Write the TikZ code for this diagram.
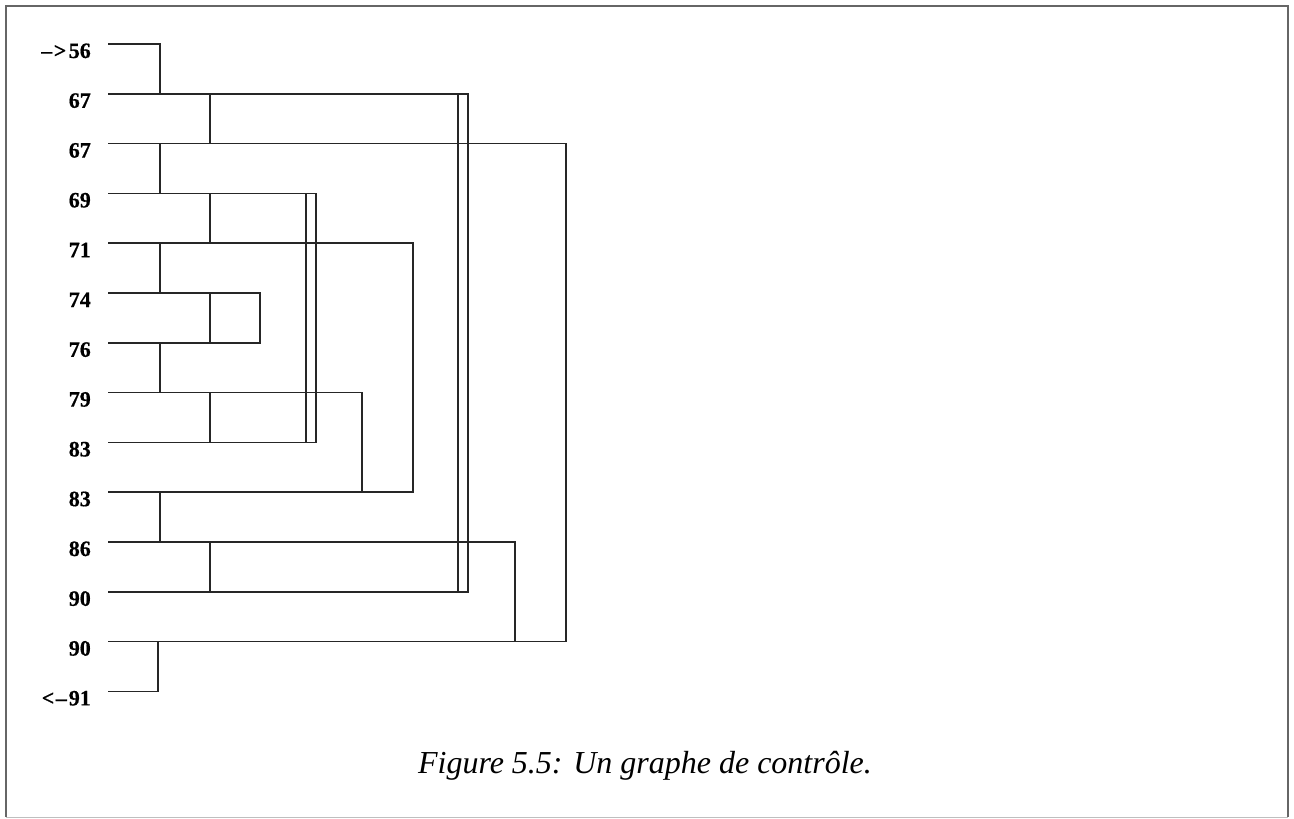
\documentclass[tikz,border=0pt]{standalone}
\usepackage{fontspec}
\setmainfont{Liberation Serif}
\begin{document}
\begin{tikzpicture}[x=1pt,y=-1pt,
  lab/.style={anchor=base east,inner sep=0pt,font=\fontsize{22}{22}\selectfont\bfseries\addfontfeature{FakeBold=0.6}},
  edge/.style={line width=1.6pt,color=black!85},
  frame/.style={line width=2pt,color=black!60},
  captiontext/.style={anchor=base,inner sep=0pt,font=\fontsize{32}{32}\selectfont\itshape}]
\useasboundingbox (0,0) rectangle (1294,819);
% frame
\draw[frame] (6,817) -- (6,6) -- (1288,6) -- (1288,817);
\draw[line width=1pt,color=black!25] (6,817) -- (1288,817);
% rows
\foreach \i/\t in {0/{\textendash\kern1.5pt>\kern2.5pt56},1/67,2/67,3/69,4/71,5/74,6/76,7/79,8/83,9/83,10/86,11/90,12/90,13/{<\kern1.5pt\textendash\kern2pt91}}{
  \coordinate (r\i) at (108,{44+49.8*\i});
  \node[lab] (L\i) at (91,{44+49.8*\i+14}) {\t};
}
% columns
\foreach \c in {158,160,210,260,306,316,362,413,458,468,515,566}{
  \coordinate (c\c) at (\c,0);
}
% entry / exit
\draw[edge] (r0) -- (r0 -| c160) -- (r1 -| c160);
\draw[edge] (r13) -- (r13 -| c158) -- (r12 -| c158);
% loops and jumps
\draw[edge] (r1) -- (r1 -| c468) -- (r11 -| c468) -- (r11);
\draw[edge] (r1 -| c458) -- (r11 -| c458);
\draw[edge] (r2) -- (r2 -| c566) -- (r12 -| c566) -- (r12);
\draw[edge] (r3) -- (r3 -| c316) -- (r8 -| c316) -- (r8);
\draw[edge] (r3 -| c306) -- (r8 -| c306);
\draw[edge] (r4) -- (r4 -| c413) -- (r9 -| c413) -- (r9);
\draw[edge] (r5) -- (r5 -| c260) -- (r6 -| c260) -- (r6);
\draw[edge] (r7) -- (r7 -| c362) -- (r9 -| c362);
\draw[edge] (r10) -- (r10 -| c515) -- (r12 -| c515);
% sequential links
\draw[edge] (r2 -| c160) -- (r3 -| c160);
\draw[edge] (r4 -| c160) -- (r5 -| c160);
\draw[edge] (r6 -| c160) -- (r7 -| c160);
\draw[edge] (r9 -| c160) -- (r10 -| c160);
\draw[edge] (r1 -| c210) -- (r2 -| c210);
\draw[edge] (r3 -| c210) -- (r4 -| c210);
\draw[edge] (r5 -| c210) -- (r6 -| c210);
\draw[edge] (r7 -| c210) -- (r8 -| c210);
\draw[edge] (r10 -| c210) -- (r11 -| c210);
% caption
\node[captiontext] (caption) at (645,773) {Figure 5.5: Un graphe de contrôle.};
\end{tikzpicture}
\end{document}
